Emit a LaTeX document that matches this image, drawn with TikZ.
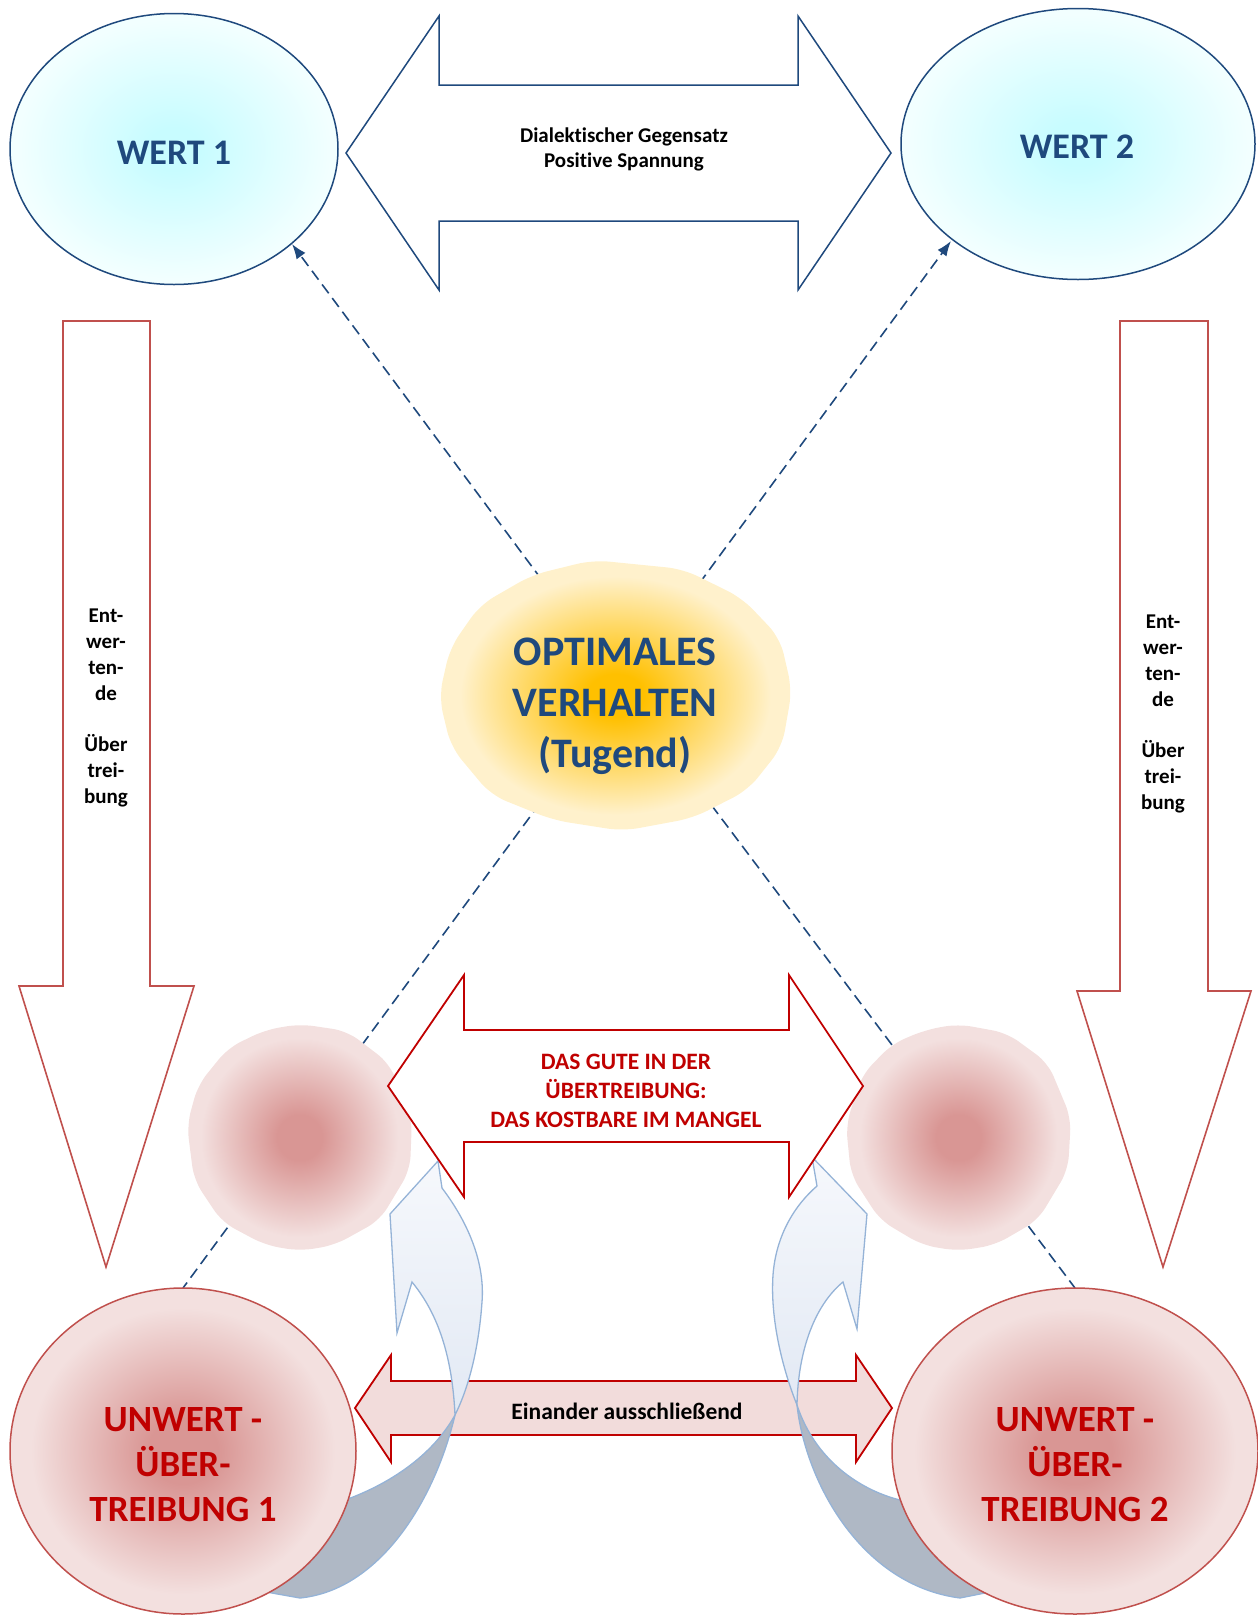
\documentclass[tikz,border=0pt]{standalone}
\usepackage{fontspec}
\setmainfont{Carlito}[Ligatures={NoCommon}]
\usetikzlibrary{shapes.geometric,arrows.meta}
\definecolor{dblue}{HTML}{1F497D}
\definecolor{dred}{HTML}{C00000}
\definecolor{mred}{HTML}{C0504D}
\definecolor{pinkc}{HTML}{D99694}
\definecolor{pinke}{HTML}{F3E0DF}
\definecolor{cyanc}{HTML}{C8FCFF}
\definecolor{cyane}{HTML}{F2FFFF}
\definecolor{goldc}{HTML}{FFC000}
\definecolor{golde}{HTML}{FFF1CC}
\definecolor{lblue}{HTML}{95B3D7}
\definecolor{abtop}{HTML}{F6F8FC}
\definecolor{abbot}{HTML}{E2E9F4}
\definecolor{dgrey}{HTML}{AFB8C5}
\definecolor{bandfill}{HTML}{F2DCDB}
\pgfdeclareradialshading{pinkshade}{\pgfpoint{0bp}{0bp}}{color(0bp)=(pinkc); color(5bp)=(pinkc); color(22bp)=(pinke); color(50bp)=(pinke)}
\pgfdeclareradialshading{cyanshade}{\pgfpoint{0bp}{0bp}}{color(0bp)=(cyanc); color(4bp)=(cyanc); color(24bp)=(cyane); color(50bp)=(cyane)}
\pgfdeclareradialshading{goldshade}{\pgfpoint{0bp}{0bp}}{color(0bp)=(goldc); color(4bp)=(goldc); color(22bp)=(golde); color(50bp)=(golde)}
\begin{document}
\begin{tikzpicture}[x=1pt,y=-1pt,
  dashline/.style={draw=dblue, line width=1.6pt, dash pattern=on 11pt off 6pt},
  wtxt/.style={font=\fontsize{36}{44}\selectfont\bfseries, text=dblue},
  otxt/.style={font=\fontsize{42}{51}\selectfont\bfseries, text=dblue, align=center},
  stxt/.style={font=\fontsize{21}{25}\selectfont\bfseries, align=center},
  vtxt/.style={font=\fontsize{21}{25.8}\selectfont\bfseries, align=center},
  rtxt/.style={font=\fontsize{23.5}{29}\selectfont\bfseries, text=dred, align=center},
  btxt/.style={font=\fontsize{23.5}{29}\selectfont\bfseries, align=center},
  utxt/.style={font=\fontsize{37}{45}\selectfont\bfseries, text=dred, align=center},
  bluearrow/.style={draw=dblue, line width=1.5pt, fill=white, line join=miter},
  downarrow/.style={draw=mred, line width=1.6pt, fill=white, line join=miter},
  redarrow/.style={draw=dred, line width=1.8pt, fill=white, line join=miter},
  bandarrow/.style={draw=dred, line width=1.8pt, fill=bandfill, line join=miter},
  curvlight/.style={draw=lblue, line width=1.3pt, top color=abtop, bottom color=abbot},
  curvdark/.style={draw=lblue, line width=1.3pt, fill=dgrey},
  bigcirc/.style={ellipse, inner sep=0pt, draw=mred, line width=1.5pt, shading=pinkshade},
  wertell/.style={ellipse, inner sep=0pt, draw=dblue, line width=1.5pt, shading=cyanshade},
  tip/.style={-{Latex[length=15pt,width=11pt]}}
]
\useasboundingbox (0,0) rectangle (1258,1615);
\clip (0,0) rectangle (1258,1615);

% named end points
\coordinate (oUL) at (562,607);
\coordinate (oUR) at (679,611);
\coordinate (oLL) at (560,776);
\coordinate (oLR) at (691,778);
\coordinate (w1in) at (292,244);
\coordinate (w2in) at (951,241);
\coordinate (u1in) at (183,1288);
\coordinate (u2in) at (1075,1288);

% dashed connectors
\draw[dashline] (oLL) -- (u1in);
\draw[dashline] (oLR) -- (u2in);

% small blobs
\path[shading=pinkshade, rounded corners=14pt] (300,1024) -- (347,1031) -- (389,1063) -- (412,1118) -- (410,1170) -- (380,1220) -- (335,1245) -- (300,1251) -- (265,1245) -- (222,1222) -- (194,1180) -- (187,1125) -- (198,1085) -- (228,1048) -- (265,1030) -- cycle;
\path[shading=pinkshade, rounded corners=14pt] (958,1024) -- (1007,1033) -- (1048,1063) -- (1071,1118) -- (1068,1170) -- (1038,1220) -- (995,1245) -- (958,1251) -- (922,1245) -- (880,1220) -- (851,1175) -- (846,1125) -- (862,1075) -- (892,1044) -- (925,1030) -- cycle;

% top dashed connectors
\draw[dashline, tip] (oUL) -- (w1in);
\draw[dashline, tip] (oUR) -- (w2in);

% central blob
\path[shading=goldshade, rounded corners=16pt] (593,560) -- (683,569) -- (742,598) -- (780,638) -- (792,690) -- (782,747) -- (748,790) -- (693,818) -- (623,831) -- (553,820) -- (491,795) -- (451,747) -- (439,697) -- (450,648) -- (480,605) -- (532,575) -- cycle;
\node[otxt] (opt) at (615,706) {OPTIMALES\\VERHALTEN\\(Tugend)};

% value ellipses
\node[wertell, minimum width=328pt, minimum height=271pt] (wert1) at (174,149) {};
\node[wertell, minimum width=354pt, minimum height=271pt] (wert2) at (1078,144) {};
\node[wtxt] (wert1t) at (174,153) {WERT 1};
\node[wtxt] (wert2t) at (1077,147) {WERT 2};

% top double arrow
\draw[bluearrow] (346,153) -- (439,16) -- (439,85) -- (798,85) -- (798,16) -- (891,153) -- (798,290) -- (798,221) -- (439,221) -- (439,290) -- cycle;
\node[stxt] (dial) at (624,149) {Dialektischer Gegensatz\\Positive Spannung};

% down arrows
\draw[downarrow] (63,321) -- (150,321) -- (150,986) -- (194,986) -- (106,1267) -- (19,986) -- (63,986) -- cycle;
\draw[downarrow] (1120,321) -- (1208,321) -- (1208,991) -- (1251,991) -- (1163,1267) -- (1077,991) -- (1120,991) -- cycle;
\node[vtxt] (ent1) at (106,708) {Ent-\\wer-\\ten-\\de\\\mbox{}\\Über\\trei-\\bung};
\node[vtxt] (ent2) at (1163,714) {Ent-\\wer-\\ten-\\de\\\mbox{}\\Über\\trei-\\bung};

% bottom band arrow
\draw[bandarrow] (355,1408) -- (391,1355) -- (391,1381) -- (856,1381) -- (856,1355) -- (892,1408) -- (856,1462) -- (856,1435) -- (391,1435) -- (391,1462) -- cycle;
\node[btxt] (ein) at (627,1411) {Einander ausschließend};

% curved arrows, left
\draw[curvdark] (455,1415) .. controls (435,1500) and (380,1590) .. (300,1598) -- (255,1590) -- (330,1505) .. controls (380,1490) and (430,1460) .. cycle;
\draw[curvlight, line join=miter] (438,1161) -- (390,1214) -- (397,1333) -- (412,1282) .. controls (435,1310) and (452,1350) .. (455,1415) .. controls (470,1385) and (479,1345) .. (482,1302) .. controls (485,1265) and (470,1225) .. (442,1188) -- cycle;
% curved arrows, right
\draw[curvdark] (797,1405) .. controls (805,1480) and (860,1585) .. (960,1598) -- (1000,1590) -- (900,1500) .. controls (860,1490) and (815,1460) .. cycle;
\draw[curvlight, line join=miter] (812,1157) -- (867,1214) -- (857,1329) -- (843,1282) .. controls (815,1305) and (798,1350) .. (797,1405) .. controls (783,1370) and (770,1320) .. (773,1275) .. controls (776,1235) and (795,1205) .. (817,1186) -- cycle;

% middle red arrow
\draw[redarrow] (388,1086) -- (464,975) -- (464,1030) -- (789,1030) -- (789,975) -- (863,1086) -- (789,1197) -- (789,1142) -- (464,1142) -- (464,1197) -- cycle;
\node[rtxt] (gute) at (626,1091) {DAS GUTE IN DER\\ÜBERTREIBUNG:\\DAS KOSTBARE IM MANGEL};

% big circles
\node[bigcirc, minimum width=346pt, minimum height=326pt] (un1) at (183,1451) {};
\node[bigcirc, minimum width=366pt, minimum height=326pt] (un2) at (1075,1451) {};
\node[utxt] (un1t) at (183,1465) {UNWERT -\\ÜBER-\\TREIBUNG 1};
\node[utxt] (un2t) at (1075,1465) {UNWERT -\\ÜBER-\\TREIBUNG 2};
\end{tikzpicture}
\end{document}
